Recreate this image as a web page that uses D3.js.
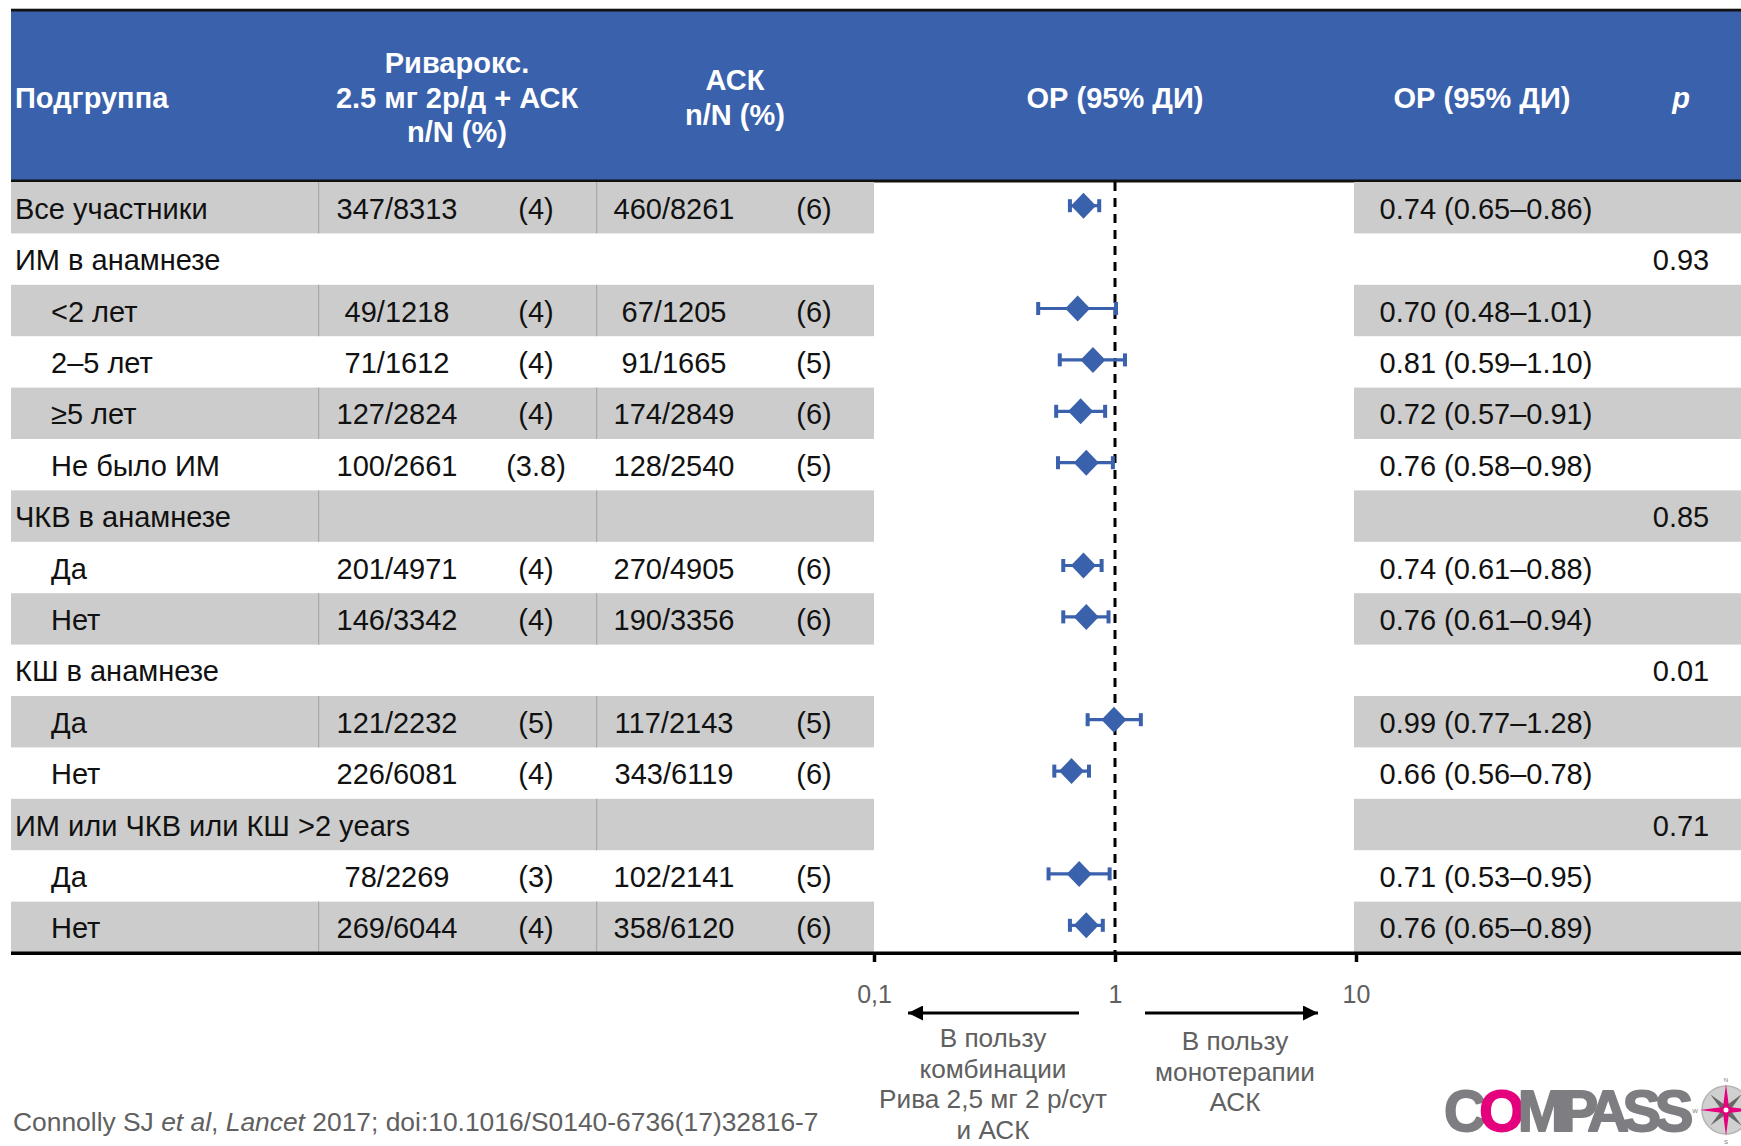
<!DOCTYPE html>
<html lang="ru">
<head>
<meta charset="utf-8">
<title>COMPASS — подгруппы</title>
<script src="https://cdn.jsdelivr.net/npm/d3@7"></script>
<style>
  html, body { margin: 0; padding: 0; background: #fff; }
  svg { display: block; font-family: "Liberation Sans", Arial, sans-serif; }
</style>
</head>
<body>
<svg id="chart" width="1741" height="1146"></svg>
<script>
// ---- data ----
const subgroups = [
  "Все участники", "ИМ в анамнезе", "<2 лет", "2–5 лет", "≥5 лет", "Не было ИМ",
  "ЧКВ в анамнезе", "Да", "Нет", "КШ в анамнезе", "Да", "Нет",
  "ИМ или ЧКВ или КШ >2 years", "Да", "Нет"
];
const indented = [false, false, true, true, true, true, false, true, true, false, true, true, false, true, true];
const rivaEvents = ["347/8313", "", "49/1218", "71/1612", "127/2824", "100/2661", "", "201/4971", "146/3342", "", "121/2232", "226/6081", "", "78/2269", "269/6044"];
const rivaPct    = ["(4)", "", "(4)", "(4)", "(4)", "(3.8)", "", "(4)", "(4)", "", "(5)", "(4)", "", "(3)", "(4)"];
const askEvents  = ["460/8261", "", "67/1205", "91/1665", "174/2849", "128/2540", "", "270/4905", "190/3356", "", "117/2143", "343/6119", "", "102/2141", "358/6120"];
const askPct     = ["(6)", "", "(6)", "(5)", "(6)", "(5)", "", "(6)", "(6)", "", "(5)", "(6)", "", "(5)", "(6)"];
const hr   = [0.74, null, 0.70, 0.81, 0.72, 0.76, null, 0.74, 0.76, null, 0.99, 0.66, null, 0.71, 0.76];
const ciLo = [0.65, null, 0.48, 0.59, 0.57, 0.58, null, 0.61, 0.61, null, 0.77, 0.56, null, 0.53, 0.65];
const ciHi = [0.86, null, 1.01, 1.10, 0.91, 0.98, null, 0.88, 0.94, null, 1.28, 0.78, null, 0.95, 0.89];
const pInteraction = ["", "0.93", "", "", "", "", "0.85", "", "", "0.01", "", "", "0.71", "", ""];
const axisTicks = [0.1, 1, 10];
const axisTickLabels = ["0,1", "1", "10"];

// ---- layout ----
const W = 1741, H = 1146;
const left = 11, tableTop = 182, tableBottom = 953;
const colSep1 = 318, colSep2 = 596, plotLeft = 874, plotRight = 1356;
const blue = "#3A61AC", grey = "#CCCCCC", textCol = "#111", noteCol = "#606060";
const fmt = v => v.toFixed(2);

const svg = d3.select("#chart");

const x = d3.scaleLog().domain([0.1, 10]).range([plotLeft, plotRight]);
const y = d3.scaleBand().domain(d3.range(subgroups.length)).range([tableTop, tableBottom]);
const rh = y.bandwidth();

// ---- header band ----
svg.append("rect").attr("x", left).attr("y", 8).attr("width", W - left).attr("height", 1).attr("fill", "#bbb");
svg.append("rect").attr("x", left).attr("y", 9).attr("width", W - left).attr("height", tableTop - 9).attr("fill", blue);
svg.append("rect").attr("x", left).attr("y", 9).attr("width", W - left).attr("height", 2.5).attr("fill", "#111");
svg.append("rect").attr("x", left).attr("y", tableTop - 2.5).attr("width", W - left).attr("height", 3).attr("fill", "#111");

const headers = [
  { lines: ["Подгруппа"], x: 15, anchor: "start", y0: 108 },
  { lines: ["Риварокс.", "2.5 мг 2р/д + АСК", "n/N (%)"], x: 457, anchor: "middle", y0: 73 },
  { lines: ["АСК", "n/N (%)"], x: 735, anchor: "middle", y0: 90 },
  { lines: ["ОР (95% ДИ)"], x: 1115, anchor: "middle", y0: 108 },
  { lines: ["ОР (95% ДИ)"], x: 1482, anchor: "middle", y0: 108 },
  { lines: ["p"], x: 1681, anchor: "middle", y0: 108, italic: true }
];
headers.forEach(h => {
  const t = svg.append("text")
    .attr("x", h.x).attr("y", h.y0)
    .attr("text-anchor", h.anchor)
    .attr("fill", "#fff").attr("font-weight", "bold").attr("font-size", 29)
    .attr("font-style", h.italic ? "italic" : "normal");
  h.lines.forEach((ln, i) => {
    t.append("tspan").attr("x", h.x).attr("dy", i === 0 ? 0 : 34.5).text(ln);
  });
});

// ---- row shading ----
const rows = svg.append("g").selectAll("g.row")
  .data(d3.range(subgroups.length))
  .join("g").attr("class", "row");

rows.filter(i => i % 2 === 0).each(function (i) {
  const g = d3.select(this);
  g.append("rect").attr("x", left).attr("y", y(i)).attr("width", plotLeft - left).attr("height", rh).attr("fill", grey);
  g.append("rect").attr("x", plotRight - 2).attr("y", y(i)).attr("width", W - plotRight + 2).attr("height", rh).attr("fill", grey);
});

// ---- row text ----
const baseY = i => y(i) + rh / 2 + 11;
const labelText = rows.append("text")
  .attr("x", i => indented[i] ? 51 : 15)
  .attr("y", baseY)
  .attr("font-size", 29).attr("fill", textCol)
  .text(i => subgroups[i]);

// column separators inside grey rows (skipped where a label spans the cell)
rows.filter(i => i % 2 === 0).each(function (i) {
  const g = d3.select(this);
  const labelEnd = (indented[i] ? 51 : 15) + labelText.filter(j => j === i).node().getComputedTextLength();
  [colSep1, colSep2].forEach(sx => {
    if (labelEnd > sx) return;
    g.append("rect").attr("x", sx).attr("y", y(i)).attr("width", 1.2).attr("height", rh).attr("fill", "#a8a8a8");
  });
});

const cols = [
  { arr: rivaEvents, x: 397 },
  { arr: rivaPct, x: 536 },
  { arr: askEvents, x: 674 },
  { arr: askPct, x: 814 }
];
cols.forEach(c => {
  rows.append("text")
    .attr("x", c.x).attr("y", baseY)
    .attr("text-anchor", "middle")
    .attr("font-size", 29).attr("fill", textCol)
    .text(i => c.arr[i]);
});

rows.filter(i => hr[i] !== null).append("text")
  .attr("x", 1486).attr("y", baseY)
  .attr("text-anchor", "middle")
  .attr("font-size", 29).attr("fill", textCol)
  .text(i => `${fmt(hr[i])} (${fmt(ciLo[i])}–${fmt(ciHi[i])})`);

rows.append("text")
  .attr("x", 1681).attr("y", baseY)
  .attr("text-anchor", "middle")
  .attr("font-size", 29).attr("fill", textCol)
  .text(i => pInteraction[i]);

// ---- reference line at HR = 1 ----
svg.append("line")
  .attr("x1", x(1)).attr("x2", x(1))
  .attr("y1", tableTop).attr("y2", tableBottom)
  .attr("stroke", "#000").attr("stroke-width", 3)
  .attr("stroke-dasharray", "9,7");

// ---- estimates with 95% CI ----
const markBlue = "#3A61AC";
const est = svg.append("g").selectAll("g")
  .data(d3.range(subgroups.length).filter(i => hr[i] !== null))
  .join("g")
  .attr("transform", i => `translate(0,${y(i) + rh / 2 - 2})`);

est.append("line")
  .attr("x1", i => x(ciLo[i])).attr("x2", i => x(ciHi[i]))
  .attr("stroke", markBlue).attr("stroke-width", 3.2);
est.append("rect")
  .attr("x", i => x(ciLo[i]) - 2).attr("y", -6.5).attr("width", 4).attr("height", 13).attr("fill", markBlue);
est.append("rect")
  .attr("x", i => x(ciHi[i]) - 2).attr("y", -6.5).attr("width", 4).attr("height", 13).attr("fill", markBlue);
est.append("path")
  .attr("d", i => { const cx = x(hr[i]); return `M${cx - 12.5},0L${cx},-13L${cx + 12.5},0L${cx},13Z`; })
  .attr("fill", markBlue);

// ---- axis ----
svg.append("rect").attr("x", left).attr("y", tableBottom - 1.5).attr("width", W - left).attr("height", 3.5).attr("fill", "#000");

const axis = d3.axisBottom(x)
  .tickValues(axisTicks)
  .tickFormat((d, i) => axisTickLabels[i])
  .tickSize(9).tickPadding(23);
const ax = svg.append("g").attr("transform", `translate(0,${tableBottom})`).call(axis);
ax.select(".domain").remove();
ax.selectAll(".tick line").attr("stroke", "#000").attr("stroke-width", 3.5);
ax.selectAll(".tick text")
  .attr("font-family", "Liberation Sans, Arial, sans-serif")
  .attr("font-size", 25).attr("fill", noteCol);

// ---- direction arrows ----
const defs = svg.append("defs");
defs.append("marker")
  .attr("id", "arrowhead").attr("viewBox", "0 0 10 10")
  .attr("refX", 10).attr("refY", 5)
  .attr("markerUnits", "userSpaceOnUse")
  .attr("markerWidth", 16).attr("markerHeight", 15)
  .attr("orient", "auto")
  .append("path").attr("d", "M0,0L10,5L0,10Z").attr("fill", "#000");

const arrowY = 1013;
svg.append("line").attr("x1", 1079).attr("x2", 908).attr("y1", arrowY).attr("y2", arrowY)
  .attr("stroke", "#000").attr("stroke-width", 3).attr("marker-end", "url(#arrowhead)");
svg.append("line").attr("x1", 1145).attr("x2", 1318).attr("y1", arrowY).attr("y2", arrowY)
  .attr("stroke", "#000").attr("stroke-width", 3).attr("marker-end", "url(#arrowhead)");

const favourLeft = ["В пользу", "комбинации", "Рива 2,5 мг 2 р/сут", "и АСК"];
const favourRight = ["В пользу", "монотерапии", "АСК"];
[[favourLeft, 993, 1047], [favourRight, 1235, 1050]].forEach(([lines, cx, y0]) => {
  const t = svg.append("text").attr("x", cx).attr("y", y0)
    .attr("text-anchor", "middle").attr("font-size", 26.2).attr("fill", noteCol);
  lines.forEach((ln, i) => t.append("tspan").attr("x", cx).attr("dy", i === 0 ? 0 : 30.7).text(ln));
});

// ---- citation ----
const cite = svg.append("text").attr("x", 13).attr("y", 1131).attr("font-size", 26.4).attr("fill", noteCol);
cite.append("tspan").text("Connolly SJ ");
cite.append("tspan").attr("font-style", "italic").text("et al");
cite.append("tspan").text(", ");
cite.append("tspan").attr("font-style", "italic").text("Lancet");
cite.append("tspan").text(" 2017; doi:10.1016/S0140-6736(17)32816-7");

// ---- COMPASS logo ----
const logo = svg.append("text").attr("x", 1444).attr("y", 1131)
  .attr("font-size", 58).attr("font-weight", "bold").attr("fill", "#7E7E82")
  .attr("stroke", "#7E7E82").attr("stroke-width", 1.8).attr("stroke-linejoin", "round")
  .attr("letter-spacing", -6.6);
logo.append("tspan").text("C");
logo.append("tspan").attr("fill", "#E5007E").attr("stroke", "#E5007E").text("O");
logo.append("tspan").text("MPASS");

const rose = svg.append("g").attr("transform", "translate(1726,1110)");
rose.append("circle").attr("r", 24).attr("fill", "#D0D0D0").attr("stroke", "#B5B5B5").attr("stroke-width", 1.5);
rose.append("path").attr("d", "M0,-22L3,-3L22,0L3,3L0,22L-3,3L-22,0L-3,-3Z")
  .attr("fill", "#666").attr("transform", "rotate(45)");
rose.append("path").attr("d", "M0,-26L3,-3L26,0L3,3L0,26L-3,3L-26,0L-3,-3Z").attr("fill", "#E5007E");
rose.append("circle").attr("r", 2.5).attr("fill", "#fff");
[["N", 0, -28], ["S", 0, 34], ["W", -31, 3]].forEach(([s, dx, dy]) => {
  rose.append("text").attr("x", dx).attr("y", dy).attr("text-anchor", "middle")
    .attr("font-size", 6).attr("fill", "#777").text(s);
});
</script>
</body>
</html>
